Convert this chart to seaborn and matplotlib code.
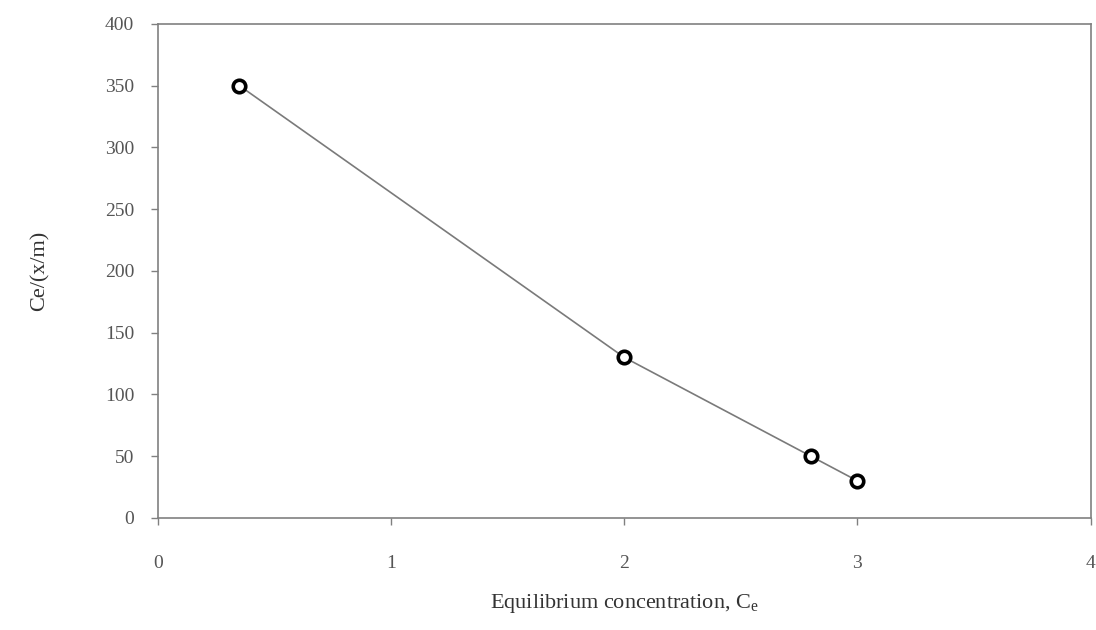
import matplotlib
matplotlib.use("Agg")
import matplotlib.pyplot as plt
import seaborn as sns
import pandas as pd

# values
conc = [0.35, 2.0, 2.8, 3.0]
ratio = [350, 130, 50, 30]

df = pd.DataFrame({"Ce": conc, "ratio": ratio})

sns.set_style("white")
plt.rcParams['font.family'] = ['Liberation Serif', 'DejaVu Serif']
plt.rcParams['mathtext.fontset'] = 'custom'
plt.rcParams['mathtext.rm'] = 'Liberation Serif'

fig = plt.figure(figsize=(10.96, 6.3), dpi=100)
ax = fig.add_axes([0.144, 0.178, 0.851, 0.784])

sns.lineplot(data=df, x="Ce", y="ratio", ax=ax, color="#7a7a7a", linewidth=1.2,
             marker="o", markersize=9, markerfacecolor="white",
             markeredgecolor="black", markeredgewidth=2.6)

ax.set_xlim(0, 4)
ax.set_ylim(0, 400)
ax.set_xticks([0, 1, 2, 3, 4])
ax.set_yticks(range(0, 401, 50))

for s in ax.spines.values():
    s.set_color("#808080")
    s.set_linewidth(1.2)

ax.tick_params(axis="both", direction="out", length=5, width=1, color="#808080",
               labelsize=14, labelcolor="#555555", bottom=True, left=True)
ax.tick_params(axis="x", pad=22)
ax.tick_params(axis="y", pad=12)

ax.set_xlabel("Equilibrium concentration, C$_\\mathrm{e}$", fontsize=16, color="#333333", labelpad=14)
ax.set_ylabel("Ce/(x/m)", fontsize=16, color="#333333", labelpad=40)

plt.savefig("out.png", dpi=100)
